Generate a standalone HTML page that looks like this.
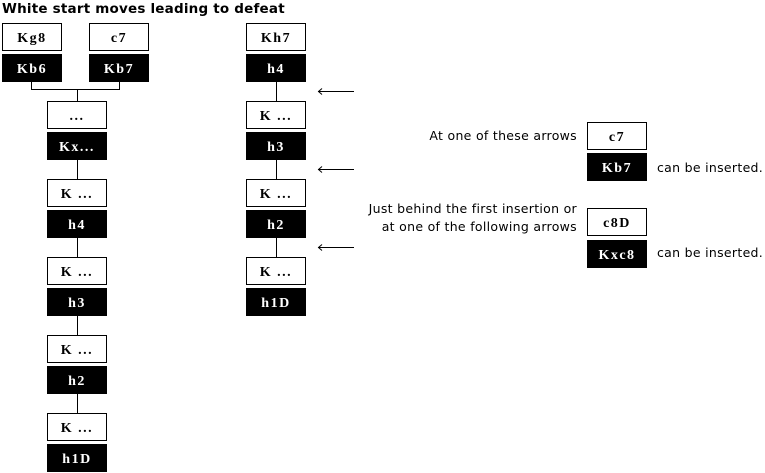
<!DOCTYPE html>
<html><head><style>
html,body{margin:0;padding:0;background:#fff;}
svg{display:block;}
.b{font-family:"Liberation Serif",serif;font-weight:bold;font-size:14px;letter-spacing:1.5px;}
.s{font-family:"DejaVu Sans","Liberation Sans",sans-serif;font-size:12.5px;letter-spacing:0.3px;}
</style></head><body>
<svg width="765" height="473" xmlns="http://www.w3.org/2000/svg">
<text x="2" y="13" font-family="DejaVu Sans, sans-serif" font-weight="bold" font-size="13.5" letter-spacing="0.2">White start moves leading to defeat</text>
<g stroke="#000" stroke-width="1" fill="none">
<path d="M31.5 81 V89.5 H119.5 V81 M77.5 89.5 V101"/>
<path d="M77.5 159 V179 M77.5 237 V257 M77.5 315 V335 M77.5 393 V413"/>
<path d="M276.5 81 V101 M276.5 159 V179 M276.5 237 V257"/>
<path d="M318 91.5 H354 M318 169.5 H354 M318 247.5 H354"/>
<path d="M322 88.5 L318.5 91.5 L322 94.5 M322 166.5 L318.5 169.5 L322 172.5 M322 244.5 L318.5 247.5 L322 250.5"/>
</g>
<g class="b" text-anchor="middle">
<g fill="#fff" stroke="#000">
<rect x="2.5" y="23.5" width="59" height="27"/>
<rect x="89.5" y="23.5" width="59" height="27"/>
<rect x="47.5" y="101.5" width="59" height="27"/>
<rect x="47.5" y="179.5" width="59" height="27"/>
<rect x="47.5" y="257.5" width="59" height="27"/>
<rect x="47.5" y="335.5" width="59" height="27"/>
<rect x="47.5" y="413.5" width="59" height="27"/>
<rect x="246.5" y="23.5" width="59" height="27"/>
<rect x="246.5" y="101.5" width="59" height="27"/>
<rect x="246.5" y="179.5" width="59" height="27"/>
<rect x="246.5" y="257.5" width="59" height="27"/>
<rect x="587.5" y="122.5" width="59" height="27"/>
<rect x="587.5" y="208.5" width="59" height="27"/>
</g>
<g fill="#000">
<rect x="2" y="54" width="60" height="28"/>
<rect x="89" y="54" width="60" height="28"/>
<rect x="47" y="132" width="60" height="28"/>
<rect x="47" y="210" width="60" height="28"/>
<rect x="47" y="288" width="60" height="28"/>
<rect x="47" y="366" width="60" height="28"/>
<rect x="47" y="444" width="60" height="28"/>
<rect x="246" y="54" width="60" height="28"/>
<rect x="246" y="132" width="60" height="28"/>
<rect x="246" y="210" width="60" height="28"/>
<rect x="246" y="288" width="60" height="28"/>
<rect x="587" y="153" width="60" height="28"/>
<rect x="587" y="240" width="60" height="28"/>
</g>
<g fill="#000">
<text x="32" y="42">Kg8</text><text x="119" y="42">c7</text>
<text x="77" y="120">...</text>
<text x="77" y="198">K ...</text><text x="77" y="276">K ...</text><text x="77" y="354">K ...</text><text x="77" y="432">K ...</text>
<text x="276" y="42">Kh7</text>
<text x="276" y="120">K ...</text><text x="276" y="198">K ...</text><text x="276" y="276">K ...</text>
<text x="617" y="141">c7</text><text x="617" y="227">c8D</text>
</g>
<g fill="#fff">
<text x="32" y="73">Kb6</text><text x="119" y="73">Kb7</text>
<text x="77" y="151">Kx...</text><text x="77" y="229">h4</text><text x="77" y="307">h3</text><text x="77" y="385">h2</text><text x="77" y="463">h1D</text>
<text x="276" y="73">h4</text><text x="276" y="151">h3</text><text x="276" y="229">h2</text><text x="276" y="307">h1D</text>
<text x="617" y="172">Kb7</text><text x="617" y="259">Kxc8</text>
</g>
</g>
<g class="s" fill="#000">
<text x="577" y="140" text-anchor="end">At one of these arrows</text>
<text x="577" y="213" text-anchor="end">Just behind the first insertion or</text>
<text x="577" y="231" text-anchor="end">at one of the following arrows</text>
<text x="657" y="172">can be inserted.</text>
<text x="657" y="257">can be inserted.</text>
</g>
</svg>
</body></html>
